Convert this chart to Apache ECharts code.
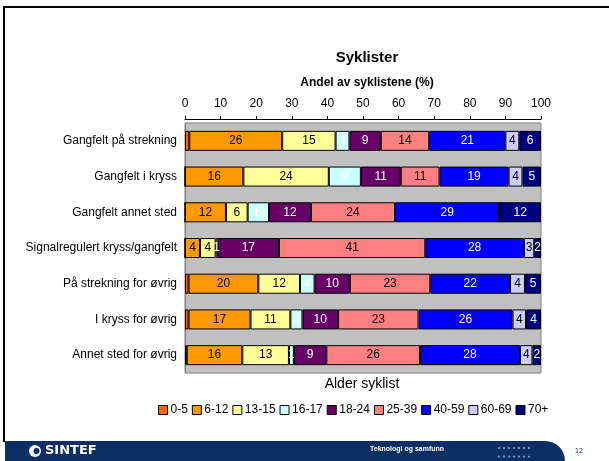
<!DOCTYPE html>
<html>
<head>
<meta charset="utf-8">
<script src="https://cdn.jsdelivr.net/npm/echarts@6/dist/echarts.min.js"></script>
<style>
  html, body { margin: 0; padding: 0; background: #fff; }
  #chart { width: 609px; height: 461px; }
</style>
</head>
<body>
<div id="chart"></div>
<script>
// kategorier (y-akse)
var categories = [
  'Gangfelt på strekning',
  'Gangfelt i kryss',
  'Gangfelt annet sted',
  'Signalregulert kryss/gangfelt',
  'På strekning for øvrig',
  'I kryss for øvrig',
  'Annet sted for øvrig'
]
var xTicks = [0, 10, 20, 30, 40, 50, 60, 70, 80, 90, 100]

// andel (%) per aldersgruppe
var age0_5 = [1.2, 0, 0, 0, 1, 1, 0.5]
var age6_12 = [26.1, 16.4, 11.5, 4.2, 19.6, 17.4, 15.6]
var age13_15 = [15, 24, 6.1, 4.4, 11.7, 11.2, 13.1]
var age16_17 = [3.9, 9, 6, 0.6, 4.1, 3.4, 1.4]
var age18_24 = [8.8, 11.2, 11.8, 17.2, 9.9, 10, 9.1]
var age25_39 = [13.6, 10.9, 23.6, 41.1, 22.6, 22.6, 26.3]
var age40_59 = [21.4, 19.4, 29.3, 27.7, 22.4, 26.4, 28.1]
var age60_69 = [3.9, 3.9, 0, 2.9, 4.2, 3.8, 3.5]
var age70 = [6.1, 5.2, 11.7, 1.9, 4.5, 4.2, 2.4]

var groups = [
  { name: '0-5', data: age0_5, color: '#ff6600', text: '#000', label: false },
  { name: '6-12', data: age6_12, color: '#ff9900', text: '#000', label: true },
  { name: '13-15', data: age13_15, color: '#ffff99', text: '#000', label: true },
  { name: '16-17', data: age16_17, color: '#ccffff', text: '#fff', label: true },
  { name: '18-24', data: age18_24, color: '#660066', text: '#fff', label: true },
  { name: '25-39', data: age25_39, color: '#ff8080', text: '#000', label: true },
  { name: '40-59', data: age40_59, color: '#0000ff', text: '#fff', label: true },
  { name: '60-69', data: age60_69, color: '#ccccff', text: '#000', label: true },
  { name: '70+', data: age70, color: '#000080', text: '#fff', label: true }
]

var font = '"Liberation Sans", Arial, sans-serif'

var chart = echarts.init(document.getElementById('chart'))

var series = groups.map(function(g) {
  return {
    name: g.name,
    type: 'bar',
    stack: 'total',
    barWidth: 20,
    data: g.data,
    itemStyle: { color: g.color, borderColor: '#000', borderWidth: 1 },
    label: {
      show: g.label,
      position: 'inside',
      color: g.text,
      fontFamily: font,
      fontSize: 12,
      formatter: function(p) { return Math.round(p.value) }
    }
  }
})

// prikker i bunnlinjen
var dots = []
for (var r = 0; r < 2; r++) {
  for (var c = 0; c < 7; c++) {
    dots.push({
      type: 'circle',
      shape: { cx: 499 + c * 5, cy: 448 + r * 8.5, r: 1 },
      style: { fill: '#8fb4e3' }
    })
  }
}

var option = {
  backgroundColor: '#fff',
  animation: false,
  title: [
    {
      text: 'Syklister', left: 362, top: 45, textAlign: 'center',
      textStyle: { fontFamily: font, fontSize: 15, fontWeight: 'bold', color: '#000' }
    },
    {
      text: 'Andel av syklistene (%)', left: 362, top: 72, textAlign: 'center',
      textStyle: { fontFamily: font, fontSize: 12, fontWeight: 'bold', color: '#000' }
    },
    {
      text: 'Alder syklist', left: 357, top: 372, textAlign: 'center',
      textStyle: { fontFamily: font, fontSize: 14, fontWeight: 'normal', color: '#000' }
    }
  ],
  legend: {
    top: 399,
    left: 153,
    itemWidth: 9,
    itemHeight: 9,
    itemGap: 4,
    icon: 'rect',
    itemStyle: { borderColor: '#000', borderWidth: 1 },
    textStyle: { fontFamily: font, fontSize: 12, color: '#000', padding: [0, 0, 0, -2] },
    data: groups.map(function(g) { return g.name })
  },
  grid: {
    left: 185,
    right: 68,
    top: 123,
    bottom: 88,
    show: true,
    backgroundColor: '#c0c0c0',
    borderColor: '#808080',
    borderWidth: 1
  },
  xAxis: {
    type: 'value',
    position: 'top',
    offset: 4,
    min: xTicks[0],
    max: xTicks[xTicks.length - 1],
    interval: 10,
    axisLine: { show: true, lineStyle: { color: '#000', width: 1 } },
    axisTick: { show: true, length: 3, lineStyle: { color: '#000' } },
    splitLine: { show: false },
    axisLabel: { margin: 9, color: '#000', fontFamily: font, fontSize: 12 }
  },
  yAxis: {
    type: 'category',
    inverse: true,
    data: categories,
    axisLine: { show: true, lineStyle: { color: '#808080' } },
    axisTick: { show: false },
    axisLabel: { margin: 8, color: '#000', fontFamily: font, fontSize: 12 }
  },
  series: series,
  graphic: [
    // ramme
    { type: 'rect', shape: { x: 3, y: 6, width: 606, height: 2 }, style: { fill: '#000' } },
    { type: 'rect', shape: { x: 3, y: 6, width: 2, height: 436 }, style: { fill: '#000' } },
    // bunnlinje
    { type: 'rect', shape: { x: 5, y: 441, width: 560, height: 20, r: [0, 20, 0, 0] }, style: { fill: '#0b2f63' } },
    { type: 'circle', shape: { cx: 35, cy: 451, r: 6 }, style: { fill: '#fff' } },
    { type: 'circle', shape: { cx: 36.5, cy: 451, r: 3 }, style: { fill: '#0b2f63' } },
    {
      type: 'text', left: 45, top: 444,
      style: { text: 'SINTEF', fill: '#fff', font: 'bold 13px "DejaVu Sans", sans-serif' }
    },
    {
      type: 'text', left: 370, top: 446,
      style: { text: 'Teknologi og samfunn', fill: '#fff', font: 'bold 7px "Liberation Sans", Arial, sans-serif' }
    },
    {
      type: 'text', left: 575, top: 448,
      style: { text: '12', fill: '#0b2f63', font: '7px "Liberation Sans", Arial, sans-serif' }
    }
  ].concat(dots)
}

chart.setOption(option)
</script>
</body>
</html>
